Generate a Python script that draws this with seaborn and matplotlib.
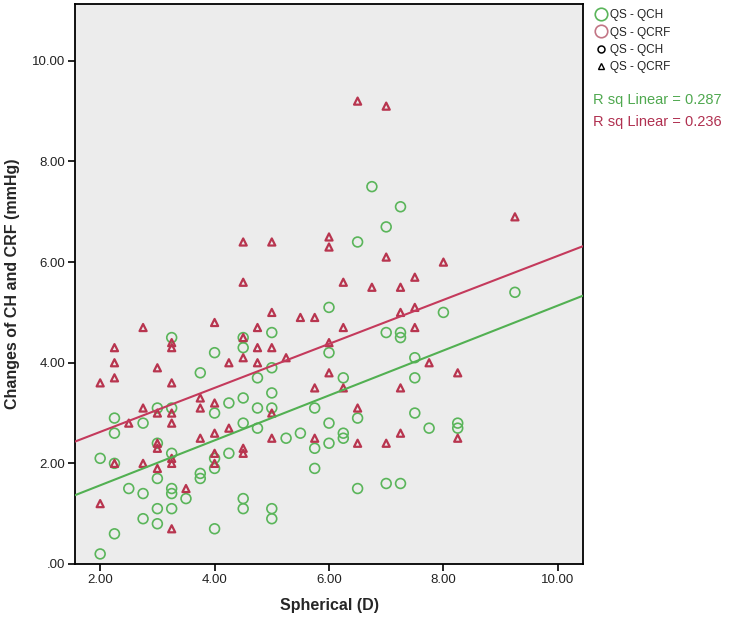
import matplotlib
matplotlib.use("Agg")
import matplotlib.pyplot as plt
from matplotlib.lines import Line2D
from matplotlib.ticker import FuncFormatter
import seaborn as sns
import pandas as pd

# %%
# Datos (Spherical D vs cambio en mmHg)
esf_qch = [2.0, 2.0,
           2.25, 2.25, 2.25, 2.25,
           2.5,
           2.75, 2.75, 2.75,
           3.0, 3.0, 3.0, 3.0, 3.0,
           3.25, 3.25, 3.25, 3.25, 3.25, 3.25,
           3.5,
           3.75, 3.75, 3.75,
           4.0, 4.0, 4.0, 4.0, 4.0,
           4.25, 4.25,
           4.5, 4.5, 4.5, 4.5, 4.5, 4.5,
           4.75, 4.75, 4.75,
           5.0, 5.0, 5.0, 5.0, 5.0, 5.0,
           5.25, 5.5,
           5.75, 5.75, 5.75,
           6.0, 6.0, 6.0, 6.0,
           6.25, 6.25, 6.25,
           6.5, 6.5, 6.5,
           6.75,
           7.0, 7.0, 7.0,
           7.25, 7.25, 7.25, 7.25,
           7.5, 7.5, 7.5,
           7.75, 8.0,
           8.25, 8.25,
           9.25]
qch = [2.1, 0.2,
       2.9, 2.6, 2.0, 0.6,
       1.5,
       2.8, 1.4, 0.9,
       3.1, 2.4, 1.7, 1.1, 0.8,
       4.5, 3.1, 2.2, 1.5, 1.4, 1.1,
       1.3,
       3.8, 1.8, 1.7,
       4.2, 3.0, 2.1, 1.9, 0.7,
       3.2, 2.2,
       4.5, 4.3, 3.3, 2.8, 1.3, 1.1,
       3.7, 3.1, 2.7,
       4.6, 3.9, 3.4, 3.1, 1.1, 0.9,
       2.5, 2.6,
       3.1, 2.3, 1.9,
       5.1, 4.2, 2.8, 2.4,
       3.7, 2.6, 2.5,
       6.4, 2.9, 1.5,
       7.5,
       6.7, 4.6, 1.6,
       7.1, 4.6, 4.5, 1.6,
       4.1, 3.7, 3.0,
       2.7, 5.0,
       2.8, 2.7,
       5.4]

esf_qcrf = [2.0, 2.0,
            2.25, 2.25, 2.25, 2.25,
            2.5,
            2.75, 2.75, 2.75,
            3.0, 3.0, 3.0, 3.0, 3.0,
            3.25, 3.25, 3.25, 3.25, 3.25, 3.25, 3.25, 3.25,
            3.5,
            3.75, 3.75, 3.75,
            4.0, 4.0, 4.0, 4.0, 4.0,
            4.25, 4.25,
            4.5, 4.5, 4.5, 4.5, 4.5, 4.5,
            4.75, 4.75, 4.75,
            5.0, 5.0, 5.0, 5.0, 5.0,
            5.25, 5.5,
            5.75, 5.75, 5.75,
            6.0, 6.0, 6.0, 6.0,
            6.25, 6.25, 6.25,
            6.5, 6.5, 6.5,
            6.75,
            7.0, 7.0, 7.0,
            7.25, 7.25, 7.25, 7.25,
            7.5, 7.5, 7.5,
            7.75, 8.0,
            8.25, 8.25,
            9.25]
qcrf = [3.6, 1.2,
        4.3, 4.0, 3.7, 2.0,
        2.8,
        4.7, 3.1, 2.0,
        3.9, 3.0, 2.4, 2.3, 1.9,
        4.4, 4.3, 3.6, 3.0, 2.8, 2.1, 2.0, 0.7,
        1.5,
        3.3, 3.1, 2.5,
        4.8, 3.2, 2.6, 2.2, 2.0,
        4.0, 2.7,
        6.4, 5.6, 4.5, 4.1, 2.3, 2.2,
        4.7, 4.3, 4.0,
        6.4, 5.0, 4.3, 3.0, 2.5,
        4.1, 4.9,
        4.9, 3.5, 2.5,
        6.5, 6.3, 4.4, 3.8,
        5.6, 4.7, 3.5,
        9.2, 3.1, 2.4,
        5.5,
        9.1, 6.1, 2.4,
        5.5, 5.0, 3.5, 2.6,
        5.7, 5.1, 4.7,
        4.0, 6.0,
        3.8, 2.5,
        6.9]

series_labels = ["QS - QCH", "QS - QCRF"]
r2_labels = ["R sq Linear = 0.287", "R sq Linear = 0.236"]
x_ticks = [2, 4, 6, 8, 10]
y_ticks = [0, 2, 4, 6, 8, 10]

df_ch = pd.DataFrame({"esf": esf_qch, "cambio": qch})
df_crf = pd.DataFrame({"esf": esf_qcrf, "cambio": qcrf})

# %%
# Colores estilo SPSS
verde = "#5ab55a"
verde_linea = "#52b052"
rojo = "#b8354f"
rojo_linea = "#c43a5c"
rosa = "#c27585"

sns.set_style("white")
plt.rcParams["font.family"] = ["Liberation Sans", "DejaVu Sans"]

fig = plt.figure(figsize=(7.37, 6.25), dpi=100)
ax = fig.add_axes([75 / 737, 1 - 564 / 625, 508 / 737, 560 / 625])
ax.set_facecolor("#ececec")
ax.set_xlim(1.56, 10.44)
ax.set_ylim(0, 11.13)

sns.regplot(data=df_ch, x="esf", y="cambio", ax=ax, ci=None, truncate=False,
            color=verde, marker="o",
            scatter_kws={"s": 50, "facecolors": "none", "linewidths": 1.2, "alpha": 1, "zorder": 3},
            line_kws={"color": verde_linea, "lw": 1.5, "zorder": 4})
sns.regplot(data=df_crf, x="esf", y="cambio", ax=ax, ci=None, truncate=False,
            color=rojo, marker="^",
            scatter_kws={"s": 26, "facecolors": "none", "linewidths": 1.6, "alpha": 1, "zorder": 3},
            line_kws={"color": rojo_linea, "lw": 1.5, "zorder": 4})

ax.set_xlim(1.56, 10.44)
ax.set_ylim(0, 11.13)
ax.set_xticks(x_ticks)
ax.set_yticks(y_ticks)


def fmt(v, pos):
    s = f"{v:.2f}"
    return s[1:] if s.startswith("0.") else s


ax.xaxis.set_major_formatter(FuncFormatter(fmt))
ax.yaxis.set_major_formatter(FuncFormatter(fmt))
ax.tick_params(axis="both", direction="out", length=5, width=1.2, color="black",
               labelsize=9.5, labelcolor="#222222", pad=2,
               bottom=True, left=True, top=False, right=False)
for sp in ax.spines.values():
    sp.set_visible(True)
    sp.set_color("black")
    sp.set_linewidth(1.3)

ax.set_xlabel("Spherical (D)", fontsize=11.5, fontweight="bold", labelpad=9)
ax.set_ylabel("Changes of CH and CRF (mmHg)", fontsize=11.5, fontweight="bold", labelpad=9)

# %%
# Leyenda a la derecha
handles = [
    Line2D([], [], marker="o", ls="", mfc="none", mec=verde, ms=9, mew=1.2, label=series_labels[0]),
    Line2D([], [], marker="o", ls="", mfc="none", mec=rosa, ms=9, mew=1.2, label=series_labels[1]),
    Line2D([], [], marker="o", ls="", mfc="none", mec="black", ms=5, mew=1.1, label=series_labels[0]),
    Line2D([], [], marker="^", ls="", mfc="none", mec="black", ms=4.5, mew=1.0, label=series_labels[1]),
]
fig.legend(handles=handles, loc="upper left", bbox_to_anchor=(588 / 737, 1 - 1 / 625),
           frameon=False, fontsize=8.5, handlelength=0.8, handletextpad=0.4,
           labelspacing=0.45, borderpad=0.2, labelcolor="#222222")

fig.text(593 / 737, 1 - 100 / 625, r2_labels[0], color="#4fa84f", fontsize=10.5, va="center")
fig.text(593 / 737, 1 - 122 / 625, r2_labels[1], color="#b03050", fontsize=10.5, va="center")

plt.savefig("out.png", dpi=100)
